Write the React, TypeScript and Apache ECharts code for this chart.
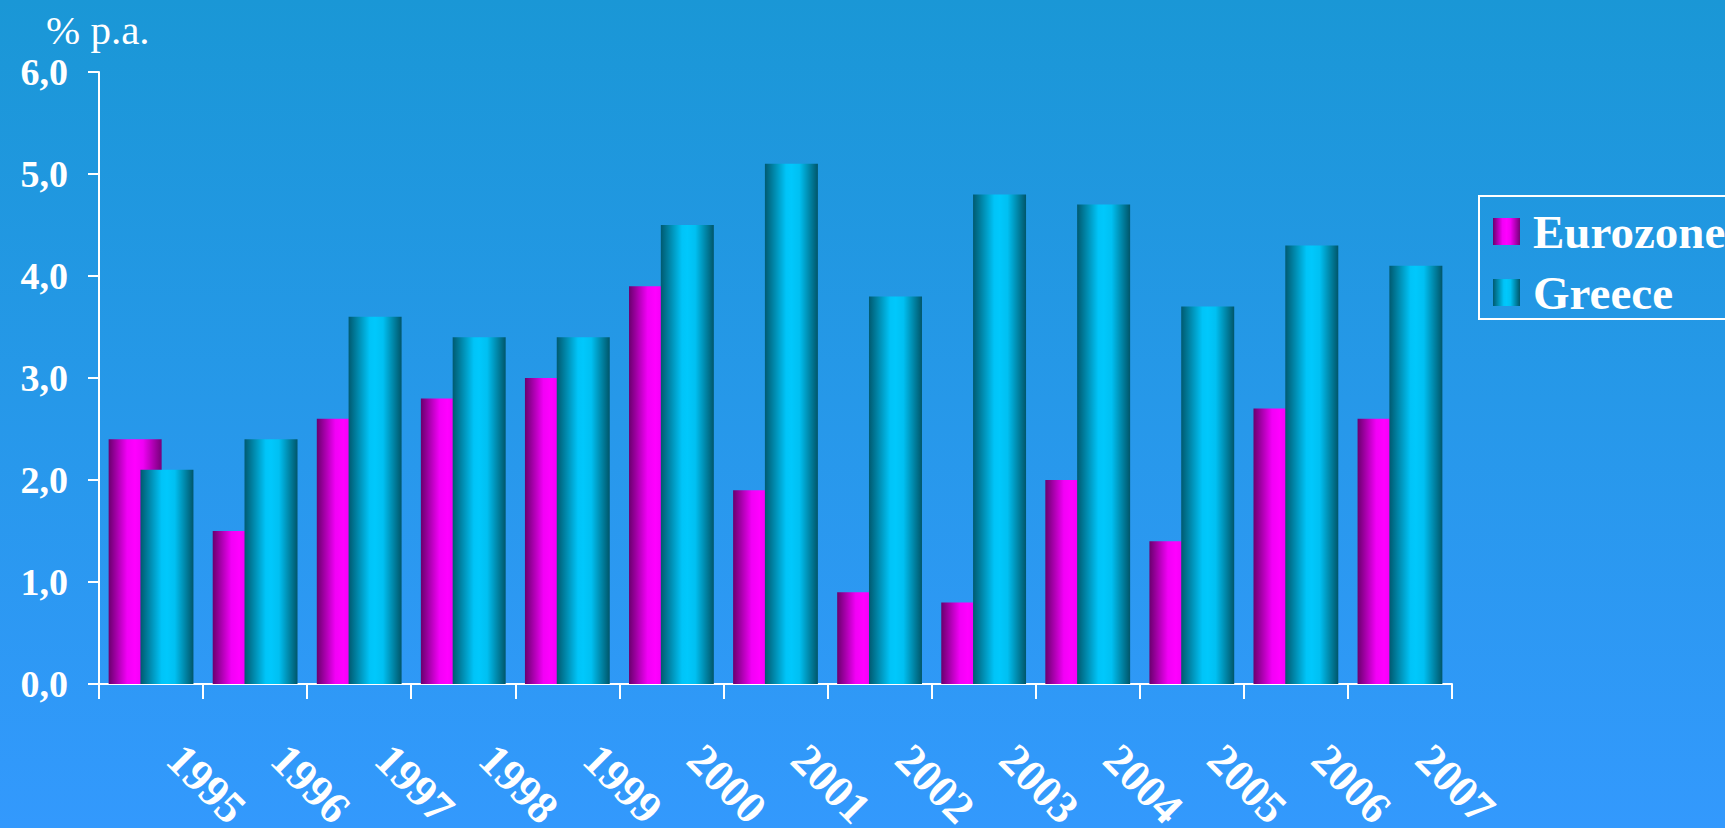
import React, { useEffect, useRef } from "react";
import * as echarts from "echarts";

const categories = ["1995", "1996", "1997", "1998", "1999", "2000", "2001", "2002", "2003", "2004", "2005", "2006", "2007"];
const eurozone = [2.4, 1.5, 2.6, 2.8, 3.0, 3.9, 1.9, 0.9, 0.8, 2.0, 1.4, 2.7, 2.6];
const greece = [2.1, 2.4, 3.6, 3.4, 3.4, 4.5, 5.1, 3.8, 4.8, 4.7, 3.7, 4.3, 4.1];
const yTickLabels = ["0,0", "1,0", "2,0", "3,0", "4,0", "5,0", "6,0"];
const unitLabel = "% p.a.";

const FONT = "'Liberation Serif', 'Times New Roman', serif";

export default function App() {
  const ref = useRef<HTMLDivElement>(null);
  useEffect(() => {
    if (!ref.current) return;
    const chart = echarts.init(ref.current, undefined, { renderer: "svg" });
    const euroGrad = new echarts.graphic.LinearGradient(0, 0, 1, 0, [
      { offset: 0, color: "#6a006e" },
      { offset: 0.35, color: "#f200f6" },
      { offset: 0.5, color: "#ff00ff" },
      { offset: 0.65, color: "#f000f4" },
      { offset: 1, color: "#76007a" },
    ]);
    const greeceGrad = new echarts.graphic.LinearGradient(0, 0, 1, 0, [
      { offset: 0, color: "#005a70" },
      { offset: 0.4, color: "#00c4f8" },
      { offset: 0.5, color: "#00c8fc" },
      { offset: 0.65, color: "#00c0f2" },
      { offset: 1, color: "#00566a" },
    ]);
    chart.setOption({
      animation: false,
      grid: { left: 99, right: 273, top: 72, bottom: 144, containLabel: false, outerBoundsMode: "none" },
      graphic: [
        {
          type: "text",
          left: 46,
          top: 9,
          style: { text: unitLabel, fill: "#ffffff", font: `41px ${FONT}` },
        },
      ],
      legend: {
        left: 1479,
        top: 196,
        orient: "vertical",
        itemWidth: 27,
        itemHeight: 27,
        itemGap: 14,
        padding: [12, 40, 3, 14],
        borderColor: "#ffffff",
        borderWidth: 2,
        icon: "rect",
        textStyle: { color: "#ffffff", fontFamily: FONT, fontWeight: "bold", fontSize: 47, padding: [0, 0, 0, 8] },
        data: ["Eurozone", "Greece"],
      },
      xAxis: {
        type: "category",
        data: categories,
        axisLine: { lineStyle: { color: "#ffffff", width: 2 } },
        axisTick: { show: true, length: 15, lineStyle: { color: "#ffffff", width: 2 } },
        axisLabel: {
          rotate: -45,
          margin: 76,
          color: "#ffffff",
          fontFamily: FONT,
          fontWeight: "bold",
          fontSize: 45,
          align: "left",
          verticalAlign: "bottom",
          padding: [0, 0, 0, 11],
        },
      },
      yAxis: {
        type: "value",
        min: 0,
        max: 6,
        interval: 1,
        axisLine: { show: true, lineStyle: { color: "#ffffff", width: 2 } },
        axisTick: { show: true, length: 11, lineStyle: { color: "#ffffff", width: 2 } },
        splitLine: { show: false },
        axisLabel: {
          margin: 31,
          color: "#ffffff",
          fontFamily: FONT,
          fontWeight: "bold",
          fontSize: 38,
          formatter: (v: number) => yTickLabels[Math.round(v)] ?? "",
        },
      },
      series: [
        {
          name: "Eurozone",
          type: "bar",
          data: eurozone,
          barWidth: 53,
          barGap: "-40%",
          itemStyle: { color: euroGrad },
        },
        {
          name: "Greece",
          type: "bar",
          data: greece,
          barWidth: 53,
          barGap: "-40%",
          itemStyle: { color: greeceGrad },
        },
      ],
    });
    return () => chart.dispose();
  }, []);
  return (
    <div
      ref={ref}
      style={{
        position: "fixed",
        left: 0,
        top: 0,
        width: 1725,
        height: 828,
        background: "linear-gradient(to bottom, #1a97d6 0%, #3399fd 100%)",
      }}
    />
  );
}
